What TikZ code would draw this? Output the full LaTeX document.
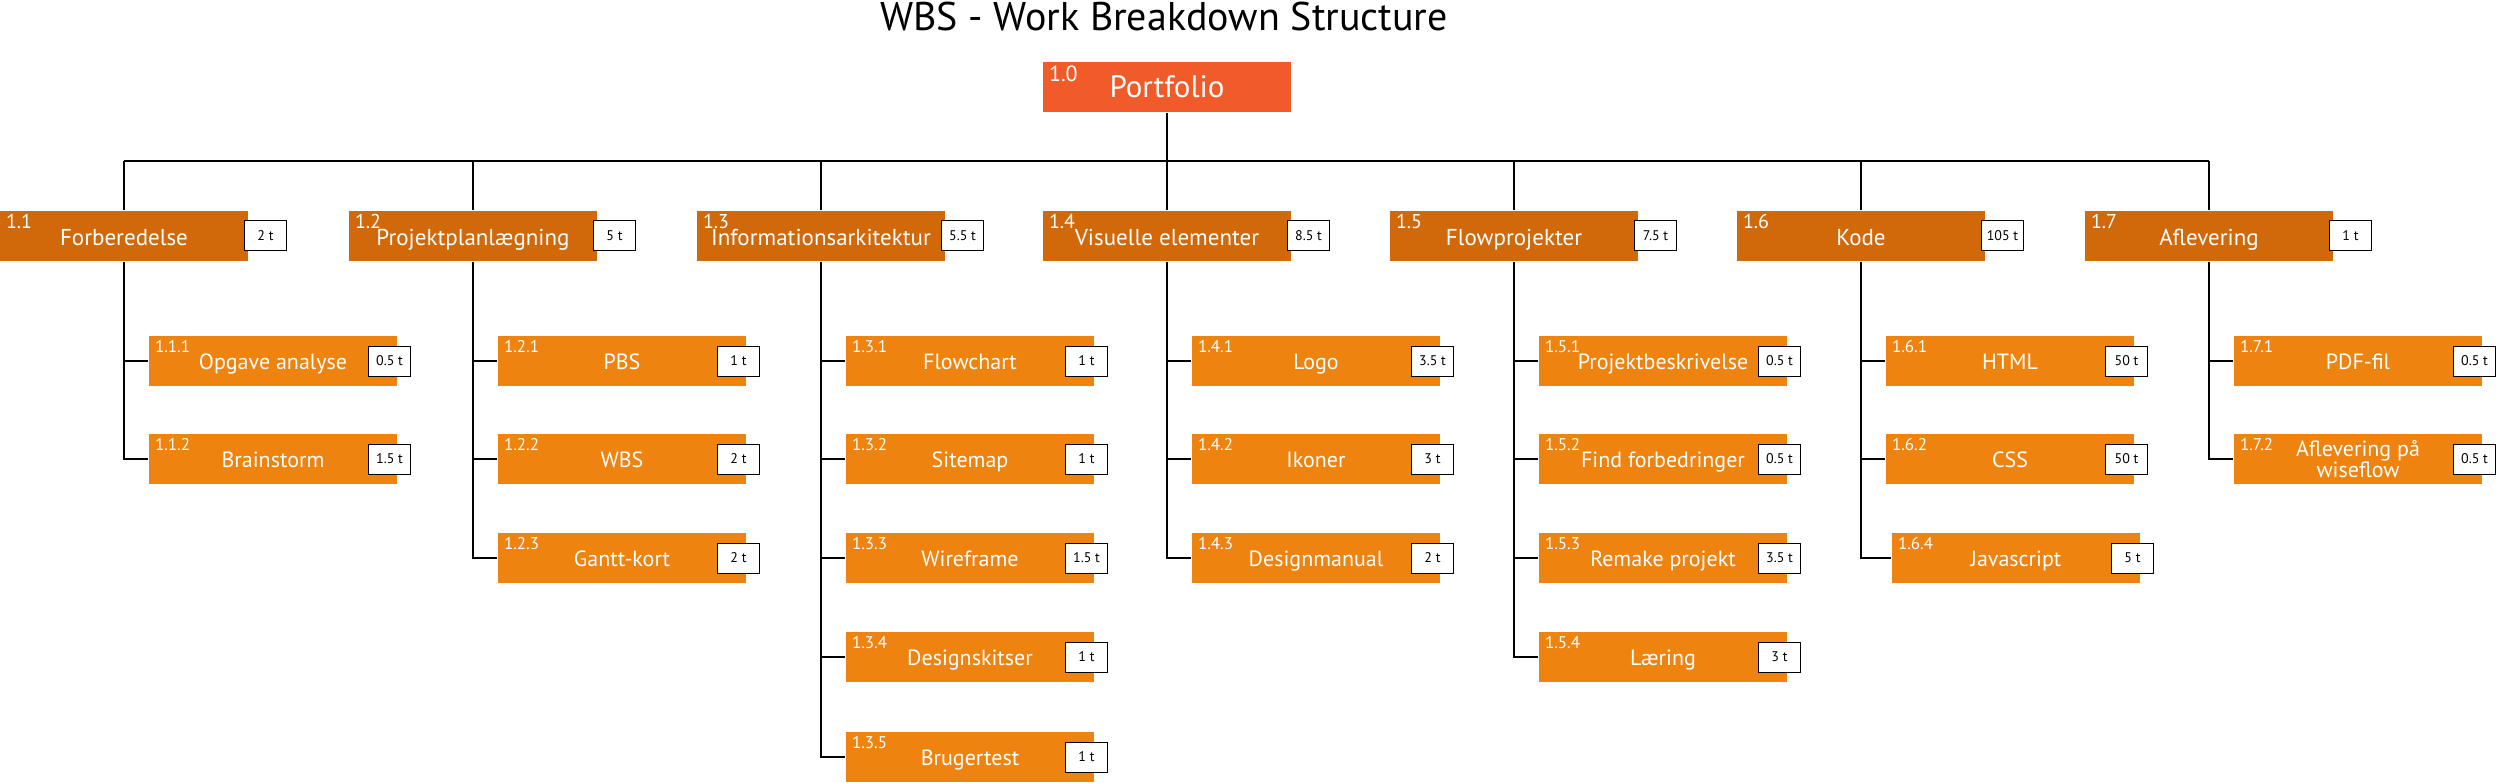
\documentclass[tikz,border=0pt]{standalone}
\usepackage{fontspec}
\setmainfont{PT Sans}
\usetikzlibrary{positioning}

\definecolor{portcol}{RGB}{241,90,41}
\definecolor{onecol}{RGB}{209,105,11}
\definecolor{twocol}{RGB}{238,131,16}

\tikzset{every picture/.style={line width=2pt}}
\tikzset{
  wbsbox/.style={minimum width=248pt, minimum height=50pt, inner sep=0pt, text=white, text depth=0pt},
  topbox/.style={wbsbox, fill=portcol, text height=21pt, font=\fontsize{31}{31}\selectfont},
  onebox/.style={wbsbox, fill=onecol, text height=19pt, font=\fontsize{23}{23}\selectfont},
  twobox/.style={wbsbox, fill=twocol, text height=16pt, font=\fontsize{22}{22}\selectfont},
  nrlbl/.style={anchor=north west, inner xsep=6pt, inner ysep=4pt, text=white},
  nrtop/.style={nrlbl, font=\fontsize{22}{22}\selectfont},
  nrone/.style={nrlbl, font=\fontsize{20}{20}\selectfont},
  nrtwo/.style={nrlbl, font=\fontsize{17}{17}\selectfont},
  timebox/.style={draw=black, fill=white, line width=1pt, minimum width=42pt, minimum height=30pt, inner sep=0pt, font=\fontsize{14}{14}\selectfont},
  busline/.style={line width=2.5pt}
}

\begin{document}
\begin{tikzpicture}[x=1pt,y=1pt,yscale=-1,xscale=1]
\useasboundingbox (0,0) rectangle (2500,782);

% Text Node
\node[font=\fontsize{40}{40}\selectfont, anchor=base] (title) at (1164,30) {WBS - Work Breakdown Structure};

% Portfolio
\node[topbox] (b10) at (1167,86.5) {Portfolio};
\node[nrtop] (n10) at (b10.north west) {1.0};
\coordinate (bus) at (0,161);

% Level 1
\node[onebox] (b11) at (124,235.5) {Forberedelse};
\node[nrone] (n11) at (b11.north west) {1.1};
\node[timebox, right=-5pt of b11.east] (t11) {2 t};

\node[onebox] (b12) at (473,235.5) {Projektplanlægning};
\node[nrone] (n12) at (b12.north west) {1.2};
\node[timebox, right=-5pt of b12.east] (t12) {5 t};

\node[onebox] (b13) at (821,235.5) {Informationsarkitektur};
\node[nrone] (n13) at (b13.north west) {1.3};
\node[timebox, right=-5pt of b13.east] (t13) {5.5 t};

\node[onebox] (b14) at (1167,235.5) {Visuelle elementer};
\node[nrone] (n14) at (b14.north west) {1.4};
\node[timebox, right=-5pt of b14.east] (t14) {8.5 t};

\node[onebox] (b15) at (1514,235.5) {Flowprojekter};
\node[nrone] (n15) at (b15.north west) {1.5};
\node[timebox, right=-5pt of b15.east] (t15) {7.5 t};

\node[onebox] (b16) at (1861,235.5) {Kode};
\node[nrone] (n16) at (b16.north west) {1.6};
\node[timebox, right=-5pt of b16.east] (t16) {105 t};

\node[onebox] (b17) at (2209,235.5) {Aflevering};
\node[nrone] (n17) at (b17.north west) {1.7};
\node[timebox, right=-5pt of b17.east] (t17) {1 t};

% Level 2 - 1.1
\node[twobox] (b111) at (273,361) {Opgave analyse};
\node[nrtwo] (n111) at (b111.north west) {1.1.1};
\node[timebox, left=-13pt of b111.east] (t111) {0.5 t};
\node[twobox] (b112) at (273,459) {Brainstorm};
\node[nrtwo] (n112) at (b112.north west) {1.1.2};
\node[timebox, left=-13pt of b112.east] (t112) {1.5 t};

% Level 2 - 1.2
\node[twobox] (b121) at (622,361) {PBS};
\node[nrtwo] (n121) at (b121.north west) {1.2.1};
\node[timebox, left=-13pt of b121.east] (t121) {1 t};
\node[twobox] (b122) at (622,459) {WBS};
\node[nrtwo] (n122) at (b122.north west) {1.2.2};
\node[timebox, left=-13pt of b122.east] (t122) {2 t};
\node[twobox] (b123) at (622,558) {Gantt-kort};
\node[nrtwo] (n123) at (b123.north west) {1.2.3};
\node[timebox, left=-13pt of b123.east] (t123) {2 t};

% Level 2 - 1.3
\node[twobox] (b131) at (970,361) {Flowchart};
\node[nrtwo] (n131) at (b131.north west) {1.3.1};
\node[timebox, left=-13pt of b131.east] (t131) {1 t};
\node[twobox] (b132) at (970,459) {Sitemap};
\node[nrtwo] (n132) at (b132.north west) {1.3.2};
\node[timebox, left=-13pt of b132.east] (t132) {1 t};
\node[twobox] (b133) at (970,558) {Wireframe};
\node[nrtwo] (n133) at (b133.north west) {1.3.3};
\node[timebox, left=-13pt of b133.east] (t133) {1.5 t};
\node[twobox] (b134) at (970,657) {Designskitser};
\node[nrtwo] (n134) at (b134.north west) {1.3.4};
\node[timebox, left=-13pt of b134.east] (t134) {1 t};
\node[twobox] (b135) at (970,757) {Brugertest};
\node[nrtwo] (n135) at (b135.north west) {1.3.5};
\node[timebox, left=-13pt of b135.east] (t135) {1 t};

% Level 2 - 1.4
\node[twobox] (b141) at (1316,361) {Logo};
\node[nrtwo] (n141) at (b141.north west) {1.4.1};
\node[timebox, left=-13pt of b141.east] (t141) {3.5 t};
\node[twobox] (b142) at (1316,459) {Ikoner};
\node[nrtwo] (n142) at (b142.north west) {1.4.2};
\node[timebox, left=-13pt of b142.east] (t142) {3 t};
\node[twobox] (b143) at (1316,558) {Designmanual};
\node[nrtwo] (n143) at (b143.north west) {1.4.3};
\node[timebox, left=-13pt of b143.east] (t143) {2 t};

% Level 2 - 1.5
\node[twobox] (b151) at (1663,361) {Projektbeskrivelse};
\node[nrtwo] (n151) at (b151.north west) {1.5.1};
\node[timebox, left=-13pt of b151.east] (t151) {0.5 t};
\node[twobox] (b152) at (1663,459) {Find forbedringer};
\node[nrtwo] (n152) at (b152.north west) {1.5.2};
\node[timebox, left=-13pt of b152.east] (t152) {0.5 t};
\node[twobox] (b153) at (1663,558) {Remake projekt};
\node[nrtwo] (n153) at (b153.north west) {1.5.3};
\node[timebox, left=-13pt of b153.east] (t153) {3.5 t};
\node[twobox] (b154) at (1663,657) {Læring};
\node[nrtwo] (n154) at (b154.north west) {1.5.4};
\node[timebox, left=-13pt of b154.east] (t154) {3 t};

% Level 2 - 1.6
\node[twobox] (b161) at (2010,361) {HTML};
\node[nrtwo] (n161) at (b161.north west) {1.6.1};
\node[timebox, left=-13pt of b161.east] (t161) {50 t};
\node[twobox] (b162) at (2010,459) {CSS};
\node[nrtwo] (n162) at (b162.north west) {1.6.2};
\node[timebox, left=-13pt of b162.east] (t162) {50 t};
\node[twobox] (b164) at (2016,558) {Javascript};
\node[nrtwo] (n164) at (b164.north west) {1.6.4};
\node[timebox, left=-13pt of b164.east] (t164) {5 t};

% Level 2 - 1.7
\node[twobox] (b171) at (2358,361) {PDF-fil};
\node[nrtwo] (n171) at (b171.north west) {1.7.1};
\node[timebox, left=-13pt of b171.east] (t171) {0.5 t};
\node[twobox, text height={}, text depth={}, align=center, font=\fontsize{22}{20}\selectfont] (b172) at (2358,459) {Aflevering på\\wiseflow};
\node[nrtwo] (n172) at (b172.north west) {1.7.2};
\node[timebox, left=-13pt of b172.east] (t172) {0.5 t};

%Straight Lines
\draw (b10.south) -- (b10.south |- bus);
\draw[busline] (b11.north |- bus) -- (b17.north |- bus);
\draw (b11.north) -- (b11.north |- bus);
\draw (b12.north) -- (b12.north |- bus);
\draw (b13.north) -- (b13.north |- bus);
\draw (b14.north) -- (b14.north |- bus);
\draw (b15.north) -- (b15.north |- bus);
\draw (b16.north) -- (b16.north |- bus);
\draw (b17.north) -- (b17.north |- bus);

%Straight Lines
\draw (b11.south) |- (b112.west);
\draw (b11.south |- b111.west) -- (b111.west);
\draw (b12.south) |- (b123.west);
\draw (b12.south |- b121.west) -- (b121.west);
\draw (b12.south |- b122.west) -- (b122.west);
\draw (b13.south) |- (b135.west);
\draw (b13.south |- b131.west) -- (b131.west);
\draw (b13.south |- b132.west) -- (b132.west);
\draw (b13.south |- b133.west) -- (b133.west);
\draw (b13.south |- b134.west) -- (b134.west);
\draw (b14.south) |- (b143.west);
\draw (b14.south |- b141.west) -- (b141.west);
\draw (b14.south |- b142.west) -- (b142.west);
\draw (b15.south) |- (b154.west);
\draw (b15.south |- b151.west) -- (b151.west);
\draw (b15.south |- b152.west) -- (b152.west);
\draw (b15.south |- b153.west) -- (b153.west);
\draw (b16.south) |- (b164.west);
\draw (b16.south |- b161.west) -- (b161.west);
\draw (b16.south |- b162.west) -- (b162.west);
\draw (b17.south) |- (b172.west);
\draw (b17.south |- b171.west) -- (b171.west);
\end{tikzpicture}
\end{document}
